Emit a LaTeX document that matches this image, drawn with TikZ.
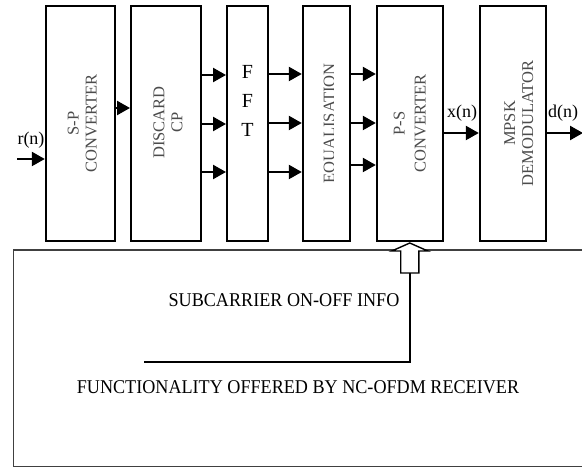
\documentclass[tikz,border=0pt]{standalone}
\usepackage{fontspec}
\setmainfont{Liberation Serif}
\newfontfamily\narrowserif[FakeStretch=0.93]{Liberation Serif}
\usetikzlibrary{arrows.meta,calc}

\tikzset{
  blk/.style={draw, line width=2pt, minimum height=235pt, inner sep=0pt},
  lbl/.style={rotate=90, align=center, text=black!70, font=\fontsize{16.5}{18}\selectfont},
  arr/.style={line width=2.3pt, -{Triangle[length=13pt,width=14pt]}},
  sig/.style={font=\fontsize{18}{20}\selectfont},
  note/.style={font=\narrowserif\fontsize{19.5}{22}\selectfont},
  hollow/.style={draw, line width=1.4pt, fill=white, line join=miter}
}

\begin{document}
\begin{tikzpicture}[x=1pt,y=-1pt]
		\useasboundingbox (0,0) rectangle (582,468);
		% receiver blocks
		\node[blk, minimum width=69pt] (sp) at (80.3,123.5) {};
		\node[blk, minimum width=70pt] (dcp) at (166,123.5) {};
		\node[blk, minimum width=41pt] (fft) at (247.5,123.5) {};
		\node[blk, minimum width=47pt] (eq) at (326.3,123.5) {};
		\node[blk, minimum width=66pt] (ps) at (409.8,123.5) {};
		\node[blk, minimum width=66pt] (mpsk) at (512.8,123.5) {};
		% block texts
		\node[lbl] at ([xshift=2pt]sp.center) {S-P\\CONVERTER};
		\node[lbl] at ([xshift=2pt,yshift=1pt]dcp.center) {DISCARD\\CP};
		\node[align=center, font=\fontsize{20}{29}\selectfont] at (247.5,101) {F\\F\\T};
		\begin{scope}
			\clip (300,0) rectangle (333.0,240);
			\node[lbl, anchor=base] at (334.6,123.5) {EQUALISATION};
		\end{scope}
		\node[lbl] at ([xshift=0pt]ps.center) {P-S\\[3pt]CONVERTER};
		\node[lbl] at ([xshift=6pt]mpsk.center) {MPSK\\DEMODULATOR};
		% signals
		\coordinate (rin) at (17,159);
		\coordinate (dout) at (583,133);
		\draw[arr] (rin) -- ([yshift=-35.5pt]sp.west);
		\draw[arr] ([yshift=15.5pt]sp.east) -- ([yshift=15.5pt]dcp.west);
		\foreach \d in {48.5,-0.5,-48.5}
			\draw[arr] ([yshift=\d pt]dcp.east) -- ([yshift=\d pt]fft.west);
		\foreach \d in {49.5,0.5,-48.5}
			\draw[arr] ([yshift=\d pt]fft.east) -- ([yshift=\d pt]eq.west);
		\foreach \d in {49.5,0.5,-41.5}
			\draw[arr] ([yshift=\d pt]eq.east) -- ([yshift=\d pt]ps.west);
		\draw[arr] ([yshift=-9.5pt]ps.east) -- ([yshift=-9.5pt]mpsk.west);
		\draw[arr] ([yshift=-9.5pt]mpsk.east) -- (dout);
		\node[sig] at (31,140) {r(n)};
		\node[sig] at (462,113) {x(n)};
		\node[sig] at (563,113) {d(n)};
		% NC-OFDM part
		\draw[line width=1.4pt, black!75] (590,250) -- (13.7,250) -- (13.7,466.7) -- (590,466.7);
		\node[note] (sub) at (284,300) {SUBCARRIER ON-OFF INFO};
		\node[note] (func) at (298,387) {FUNCTIONALITY OFFERED BY NC-OFDM RECEIVER};
		\coordinate (info) at (144,362);
		\draw[line width=2pt] (info) -| ([yshift=-30pt]ps.south);
		\draw[hollow] ([yshift=-1pt]ps.south) -- ++(-18,8) -- ++(8.9,0) -- ++(0,22) -- ++(18.2,0)
			-- ++(0,-22) -- ++(8.9,0) -- cycle;
	\end{tikzpicture}
\end{document}
